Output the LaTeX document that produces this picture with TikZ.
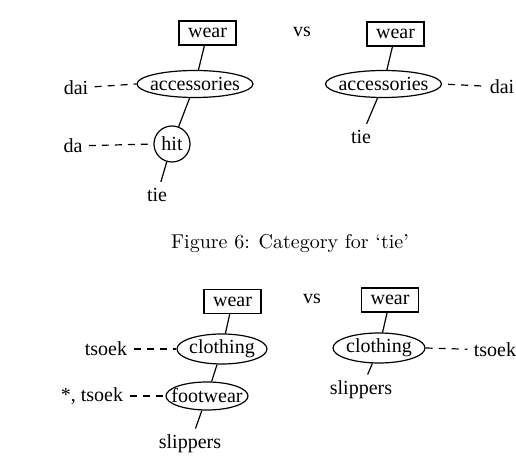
\documentclass[tikz,border=0pt]{standalone}
\usepackage{fontspec}
\newfontfamily\labelfont{Liberation Serif}
\usetikzlibrary{shapes.geometric}

\begin{document}
\begin{tikzpicture}[
    x=0.5pt, y=-0.5pt,
    catbox/.style={draw, rectangle, line width=0.6pt, inner sep=0pt, font=\labelfont, minimum width=28.5pt, minimum height=12pt},
    catoval/.style={draw, ellipse, line width=0.6pt, inner sep=-5pt, font=\labelfont},
    cathit/.style={draw, circle, line width=0.6pt, inner sep=0pt, font=\labelfont, minimum size=18pt},
    word/.style={font=\labelfont, inner sep=3pt},
    link/.style={line width=0.6pt},
    gloss/.style={line width=0.6pt, dash pattern=on 3.5pt off 3pt}
]
\useasboundingbox (0,0) rectangle (516,464);

% Figure 6, left tree
\node (wearA) [catbox] at (207.5,33) {wear};
\node (accA) [catoval, minimum width=58pt, minimum height=13.5pt] at (195,84) {accessories};
\node (hitA) [cathit] at (172,144) {hit};
\node (tieA) [word] at (157,195) {tie};
\node (daiA) [word] at (76,88) {dai};
\node (daA) [word] at (73,146) {da};

% Figure 6, right tree
\node (vsA) [word] at (302,32) {vs};
\node (wearB) [catbox] at (395.5,34) {wear};
\node (accB) [catoval, minimum width=58pt, minimum height=13.5pt] at (383.5,84) {accessories};
\node (tieB) [word] at (361,137) {tie};
\node (daiB) [word] at (502,87) {dai};

\node (caption) at (290,244) {Figure 6: Category for `tie'};

% slippers, left tree
\node (wearC) [catbox] at (232.5,301.5) {wear};
\node (clothC) [catoval, minimum width=45pt, minimum height=15pt] at (222,349) {clothing};
\node (footC) [catoval, minimum width=41pt, minimum height=14pt] at (207,396) {footwear};
\node (tsoekC) [word] at (106,349) {tsoek};
\node (startsoekC) [word] at (92,396) {*, tsoek};
\node (slipC) [word] at (190,444) {slippers};

% slippers, right tree
\node (vsB) [word] at (312,299) {vs};
\node (wearD) [catbox] at (390,300) {wear};
\node (clothD) [catoval, minimum width=46pt, minimum height=15pt] at (379,348) {clothing};
\node (tsoekD) [word] at (495,350) {tsoek};
\node (slipD) [word] at (361,390) {slippers};

\draw [link] (wearA) -- (accA);
\draw [link] (accA) -- (hitA);
\draw [link] (hitA) -- (tieA);
\draw [gloss] (daiA) -- (accA.west);
\draw [gloss] (daA) -- (hitA.west);

\draw [link] (wearB) -- (accB);
\draw [link] (accB) -- (tieB);
\draw [gloss, shorten <=3pt] (accB.east) -- (daiB);

\draw [link] (wearC) -- (clothC);
\draw [link] (clothC) -- (footC);
\draw [link] (footC) -- (slipC);
\draw [gloss] (tsoekC) -- (clothC.west);
\draw [gloss] (startsoekC) -- (footC.west);

\draw [link] (wearD) -- (clothD);
\draw [link] (clothD) -- (slipD);
\draw [gloss] (clothD.east) -- (tsoekD);

\end{tikzpicture}
\end{document}
